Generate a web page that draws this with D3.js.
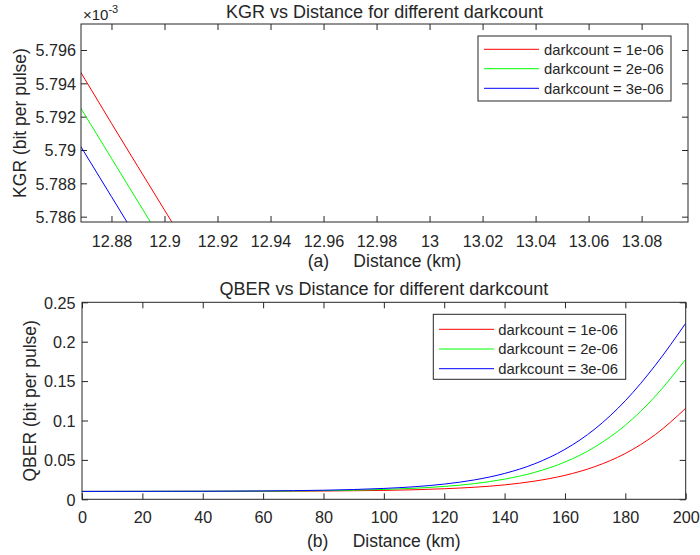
<!DOCTYPE html>
<html>
<head>
<meta charset="utf-8">
<script src="https://cdn.jsdelivr.net/npm/d3@7"></script>
<style>
  html, body { margin: 0; padding: 0; background: #fff; }
  svg { display: block; font-family: "Liberation Sans", Arial, Helvetica, sans-serif; }
  text { fill: #262626; }
</style>
</head>
<body>
<svg id="chart" width="700" height="555"></svg>
<script>
// ---------- data ----------
const seriesNames = ["darkcount = 1e-06", "darkcount = 2e-06", "darkcount = 3e-06"];
const seriesColors = ["#ff0000", "#00ff00", "#0000ff"];

// Top panel: KGR (zoomed view)
const kgrDistance = [12.86, 12.88, 12.90, 12.92];
const kgrDark1 = [5.7969e-3, 5.7916e-3, 5.7864e-3, 5.7812e-3];
const kgrDark2 = [5.7947e-3, 5.7895e-3, 5.7843e-3, 5.7791e-3];
const kgrDark3 = [5.7924e-3, 5.7872e-3, 5.7820e-3, 5.7768e-3];
const kgrXTicks = [12.88, 12.90, 12.92, 12.94, 12.96, 12.98, 13.00, 13.02, 13.04, 13.06, 13.08];
const kgrXTickLabels = ["12.88", "12.9", "12.92", "12.94", "12.96", "12.98", "13", "13.02", "13.04", "13.06", "13.08"];
const kgrYTicks = [5.786e-3, 5.788e-3, 5.790e-3, 5.792e-3, 5.794e-3, 5.796e-3];
const kgrYTickLabels = ["5.786", "5.788", "5.79", "5.792", "5.794", "5.796"];
const kgrXDomain = [12.8685, 13.0975];
const kgrYDomain = [5.78568e-3, 5.79756e-3];

// Bottom panel: QBER
const qberDistance = [0, 10, 20, 30, 40, 50, 60, 70, 80, 90, 100, 110, 120, 130, 140, 150, 160, 170, 180, 190, 200];
const qberDark1 = [0.0100, 0.0100, 0.0100, 0.0101, 0.0101, 0.0101, 0.0102, 0.0103, 0.0105, 0.0109, 0.0113, 0.0121, 0.0134, 0.0153, 0.0183, 0.0231, 0.0304, 0.0416, 0.0582, 0.0823, 0.1155];
const qberDark2 = [0.0100, 0.0100, 0.0101, 0.0101, 0.0102, 0.0103, 0.0104, 0.0106, 0.0110, 0.0116, 0.0125, 0.0140, 0.0163, 0.0199, 0.0256, 0.0342, 0.0473, 0.0666, 0.0940, 0.1311, 0.1777];
const qberDark3 = [0.0100, 0.0101, 0.0101, 0.0102, 0.0102, 0.0104, 0.0106, 0.0110, 0.0115, 0.0124, 0.0138, 0.0159, 0.0193, 0.0246, 0.0328, 0.0451, 0.0634, 0.0895, 0.1251, 0.1704, 0.2234];
const qberXTicks = [0, 20, 40, 60, 80, 100, 120, 140, 160, 180, 200];
const qberXTickLabels = ["0", "20", "40", "60", "80", "100", "120", "140", "160", "180", "200"];
const qberYTicks = [0, 0.05, 0.10, 0.15, 0.20, 0.25];
const qberYTickLabels = ["0", "0.05", "0.1", "0.15", "0.2", "0.25"];

// ---------- drawing ----------
const svg = d3.select("#chart");
const AX = "#262626";
const TICK_FS = 16.2, LABEL_FS = 17.5, TITLE_FS = 18, LEGEND_FS = 14.8;

function panel(cfg) {
  const x = d3.scaleLinear().domain(cfg.xDomain).range([cfg.left, cfg.right]);
  const y = d3.scaleLinear().domain(cfg.yDomain).range([cfg.bottom, cfg.top]);
  const g = svg.append("g");

  const clipId = "clip" + cfg.id;
  svg.append("defs").append("clipPath").attr("id", clipId)
    .append("rect").attr("x", cfg.left).attr("y", cfg.top)
    .attr("width", cfg.right - cfg.left).attr("height", cfg.bottom - cfg.top);

  const fmtX = (d) => cfg.xLabels[cfg.xTicks.indexOf(d)];
  const fmtY = (d) => cfg.yLabels[cfg.yTicks.indexOf(d)];

  const gb = g.append("g").attr("transform", `translate(0,${cfg.bottom})`)
    .call(d3.axisBottom(x).tickValues(cfg.xTicks).tickFormat(fmtX).tickSize(-6).tickSizeOuter(0).tickPadding(cfg.xPad));
  const gt = g.append("g").attr("transform", `translate(0,${cfg.top})`)
    .call(d3.axisTop(x).tickValues(cfg.xTicks).tickFormat("").tickSize(-6).tickSizeOuter(0));
  const gl = g.append("g").attr("transform", `translate(${cfg.left},0)`)
    .call(d3.axisLeft(y).tickValues(cfg.yTicks).tickFormat(fmtY).tickSize(-6).tickSizeOuter(0).tickPadding(cfg.yPad));
  const gr = g.append("g").attr("transform", `translate(${cfg.right},0)`)
    .call(d3.axisRight(y).tickValues(cfg.yTicks).tickFormat("").tickSize(-6).tickSizeOuter(0));

  [gb, gt, gl, gr].forEach(a => {
    a.select(".domain").remove();
    a.selectAll(".tick line").attr("stroke", AX).attr("stroke-width", 1);
    a.selectAll(".tick text").attr("fill", AX).style("font-size", TICK_FS + "px")
      .style("font-family", '"Liberation Sans", Arial, sans-serif');
  });
  gl.selectAll(".tick text").attr("dy", "0.36em");

  const line = d3.line().x(d => x(d[0])).y(d => y(d[1])).curve(d3.curveMonotoneX);
  cfg.series.forEach((vals, i) => {
    g.append("path")
      .datum(cfg.xs.map((d, j) => [d, vals[j]]))
      .attr("clip-path", `url(#${clipId})`)
      .attr("fill", "none")
      .attr("stroke", seriesColors[i])
      .attr("stroke-width", 1)
      .attr("d", line);
  });

  g.append("rect").attr("x", cfg.left).attr("y", cfg.top)
    .attr("width", cfg.right - cfg.left).attr("height", cfg.bottom - cfg.top)
    .attr("fill", "none").attr("stroke", AX).attr("stroke-width", 1);

  g.append("text").attr("x", (cfg.left + cfg.right) / 2).attr("y", cfg.titleY)
    .attr("text-anchor", "middle").style("font-size", TITLE_FS + "px").text(cfg.title);
  g.append("text").attr("x", (cfg.left + cfg.right) / 2).attr("y", cfg.xLabelY)
    .attr("text-anchor", "middle").style("font-size", LABEL_FS + "px")
    .style("white-space", "pre").attr("xml:space", "preserve").text(cfg.xLabel);
  g.append("text")
    .attr("transform", `translate(${cfg.yLabelX},${(cfg.top + cfg.bottom) / 2}) rotate(-90)`)
    .attr("text-anchor", "middle").style("font-size", LABEL_FS + "px").text(cfg.yLabel);

  const L = cfg.legend;
  const lg = g.append("g");
  lg.append("rect").attr("x", L.x).attr("y", L.y).attr("width", L.w).attr("height", L.h)
    .attr("fill", "#fff").attr("stroke", AX).attr("stroke-width", 1);
  seriesNames.forEach((name, i) => {
    const ry = L.rows[i];
    lg.append("line").attr("x1", L.lx1).attr("x2", L.lx2).attr("y1", ry).attr("y2", ry)
      .attr("stroke", seriesColors[i]).attr("stroke-width", 1);
    lg.append("text").attr("x", L.tx).attr("y", ry).attr("dy", "0.36em")
      .style("font-size", LEGEND_FS + "px").text(name);
  });
  return { x, y, g };
}

const topPanel = panel({
  id: "a", left: 81, right: 688, top: 24, bottom: 222,
  xDomain: kgrXDomain, yDomain: kgrYDomain,
  xTicks: kgrXTicks, xLabels: kgrXTickLabels, yTicks: kgrYTicks, yLabels: kgrYTickLabels,
  xPad: 13.5, yPad: 5,
  xs: kgrDistance, series: [kgrDark1, kgrDark2, kgrDark3],
  title: "KGR vs Distance for different darkcount", titleY: 18,
  xLabel: "(a)     Distance (km)", xLabelY: 266.5,
  yLabel: "KGR (bit per pulse)", yLabelX: 26,
  legend: { x: 478, y: 36, w: 193, h: 65, lx1: 484, lx2: 539, tx: 544, rows: [49.3, 68.7, 88.3] }
});
topPanel.g.append("text").attr("x", 83).attr("y", 20).style("font-size", "15px")
  .text("×10").append("tspan").attr("dy", -7).style("font-size", "11px").text("-3");

panel({
  id: "b", left: 82, right: 685.7, top: 302.3, bottom: 499.3,
  xDomain: [0, 200], yDomain: [0, 0.25],
  xTicks: qberXTicks, xLabels: qberXTickLabels, yTicks: qberYTicks, yLabels: qberYTickLabels,
  xPad: 12.5, yPad: 6.5,
  xs: qberDistance, series: [qberDark1, qberDark2, qberDark3],
  title: "QBER vs Distance for different darkcount", titleY: 295,
  xLabel: "(b)     Distance (km)", xLabelY: 546.7,
  yLabel: "QBER (bit per pulse)", yLabelX: 35.5,
  legend: { x: 433.3, y: 314.3, w: 192.4, h: 65, lx1: 439, lx2: 494, tx: 498.3, rows: [329.3, 349, 368.7] }
});
</script>
</body>
</html>
